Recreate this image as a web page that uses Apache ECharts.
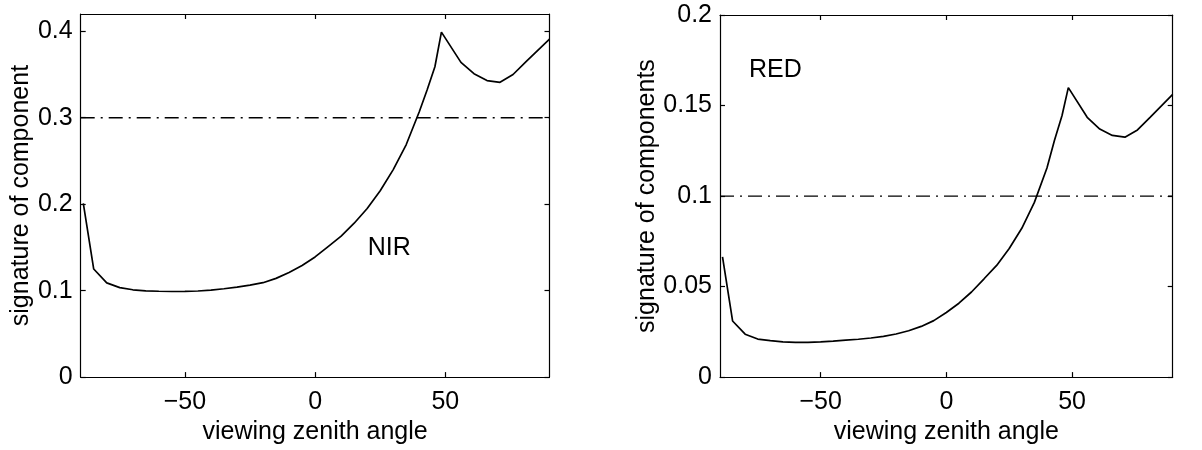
<!DOCTYPE html>
<html>
<head>
<meta charset="utf-8">
<script src="https://cdn.jsdelivr.net/npm/echarts@6/dist/echarts.min.js"></script>
<style>
  html, body { margin: 0; padding: 0; background: #fff; }
  #chart { width: 1202px; height: 450px; }
</style>
</head>
<body>
<div id="chart"></div>
<script>
// Viewing zenith angles (degrees) at which the component signatures were computed
const angles = [-89, -85, -80, -75, -70, -65, -60, -55, -50, -45, -40, -35, -30, -25, -20, -15, -10, -5,
  0, 5, 10, 15, 20, 25, 30, 35, 40, 43, 46, 48.5, 56, 61, 66, 71, 76, 81, 90];

// Near-infrared signature of the directional component
const nirSignature = [0.201, 0.125, 0.109, 0.1035, 0.101, 0.0998, 0.0993, 0.099, 0.0992, 0.0996, 0.1006,
  0.1022, 0.104, 0.1063, 0.1092, 0.1142, 0.121, 0.129, 0.139, 0.151, 0.163, 0.178, 0.195, 0.2155,
  0.24, 0.269, 0.307, 0.332, 0.359, 0.399, 0.364, 0.351, 0.343, 0.341, 0.350, 0.365, 0.391];

// Red-band signature of the directional components
const redSignature = [0.0664, 0.031, 0.0237, 0.021, 0.0201, 0.0195, 0.0192, 0.0192, 0.0195, 0.0199,
  0.0204, 0.0209, 0.0216, 0.0225, 0.0238, 0.0256, 0.028, 0.0312, 0.0357, 0.0408, 0.047, 0.0543,
  0.0617, 0.071, 0.0822, 0.0965, 0.1155, 0.1308, 0.1445, 0.1599, 0.1435, 0.137, 0.1335, 0.1325,
  0.1365, 0.1435, 0.1562];

// Constant (isotropic) component level in each band
const levelAngles = [-90, 90];
const nirLevel = [0.3, 0.3];
const redLevel = [0.1, 0.1];

// Tick values and band labels
const angleTicks = [-50, 0, 50];
const nirTicks = [0, 0.1, 0.2, 0.3, 0.4];
const redTicks = [0, 0.05, 0.1, 0.15, 0.2];
const nirTag = { text: 'NIR', angle: 28.7, value: 0.1486 };
const redTag = { text: 'RED', angle: -67.8, value: 0.1695 };

const FONT = "'Liberation Sans', Arial, Helvetica, sans-serif";
const FS = 25;
const INK = '#000';

const pairs = (xs, ys) => xs.map((x, i) => [x, ys[i]]);
const minusSign = v => String(v).replace('-', '\u2212');

function xAxes(grid, name, gap) {
  const base = {
    gridIndex: grid, type: 'value', min: -90, max: 90,
    splitLine: { show: false },
    axisLine: { show: true, onZero: false, lineStyle: { color: INK, width: 1.2 } },
    axisTick: { show: true, inside: true, length: 5, customValues: angleTicks, lineStyle: { color: INK, width: 1.2 } }
  };
  return [
    Object.assign({}, base, {
      position: 'bottom',
      name: name, nameLocation: 'middle', nameGap: gap,
      nameTextStyle: { fontFamily: FONT, fontSize: FS, color: INK },
      axisLabel: { show: true, customValues: angleTicks, margin: 13, formatter: minusSign,
        fontFamily: FONT, fontSize: FS, color: INK }
    }),
    Object.assign({}, base, { position: 'top', axisLabel: { show: false } })
  ];
}

function yAxes(grid, max, ticks, name, gap) {
  const base = {
    gridIndex: grid, type: 'value', min: 0, max: max,
    splitLine: { show: false },
    axisLine: { show: true, onZero: false, lineStyle: { color: INK, width: 1.2 } },
    axisTick: { show: true, inside: true, length: 5, customValues: ticks, lineStyle: { color: INK, width: 1.2 } }
  };
  return [
    Object.assign({}, base, {
      position: 'left',
      name: name, nameLocation: 'middle', nameGap: gap,
      nameTextStyle: { fontFamily: FONT, fontSize: FS, color: INK },
      axisLabel: { show: true, customValues: ticks, margin: 8,
        fontFamily: FONT, fontSize: FS, color: INK }
    }),
    Object.assign({}, base, { position: 'right', axisLabel: { show: false } })
  ];
}

function curve(xi, yi, data) {
  return {
    type: 'line', xAxisIndex: xi, yAxisIndex: yi, data: data,
    showSymbol: false, symbol: 'none', silent: true, animation: false,
    lineStyle: { color: INK, width: 1.7 }
  };
}

function level(xi, yi, data) {
  return {
    type: 'line', xAxisIndex: xi, yAxisIndex: yi, data: data,
    showSymbol: false, symbol: 'none', silent: true, animation: false,
    lineStyle: { color: INK, width: 1.3, type: [14, 6, 2, 6] }
  };
}

function tag(xi, yi, t) {
  return {
    type: 'scatter', xAxisIndex: xi, yAxisIndex: yi, silent: true, animation: false,
    symbolSize: 1, itemStyle: { opacity: 0 }, data: [[t.angle, t.value]],
    label: { show: true, position: [0, 0], align: 'center', verticalAlign: 'middle',
      formatter: t.text, fontFamily: FONT, fontSize: FS, color: INK,
      textBorderWidth: 0, opacity: 1 }
  };
}

const chart = echarts.init(document.getElementById('chart'), null, { renderer: 'canvas' });
chart.setOption({
  animation: false,
  backgroundColor: '#fff',
  grid: [
    { left: 80.7, top: 14, width: 468.8, height: 369.3 },
    { left: 720, top: 15, width: 452.7, height: 369.3 }
  ],
  xAxis: [].concat(
    xAxes(0, 'viewing zenith angle', 41),
    xAxes(1, 'viewing zenith angle', 42)
  ),
  yAxis: [].concat(
    yAxes(0, 0.42, nirTicks, 'signature of component', 41),
    yAxes(1, 0.2, redTicks, 'signature of components', 59)
  ),
  series: [
    curve(0, 0, pairs(angles, nirSignature)),
    level(0, 0, pairs(levelAngles, nirLevel)),
    tag(0, 0, nirTag),
    curve(2, 2, pairs(angles, redSignature)),
    level(2, 2, pairs(levelAngles, redLevel)),
    tag(2, 2, redTag)
  ]
});
</script>
</body>
</html>
